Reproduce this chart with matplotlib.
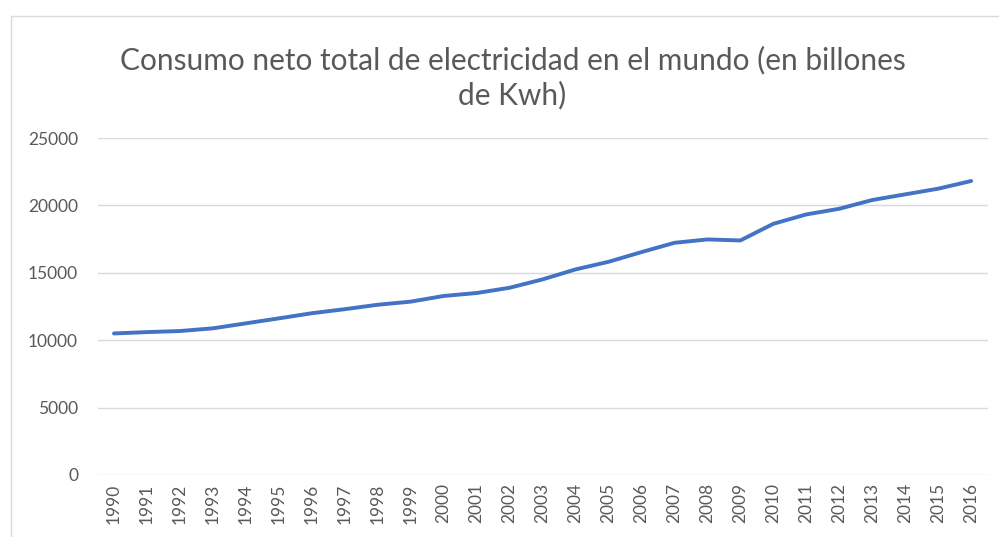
import matplotlib
matplotlib.use("Agg")
import matplotlib.pyplot as plt
from matplotlib.patches import Rectangle

years = [str(y) for y in range(1990, 2017)]
consumo = [10500, 10600, 10680, 10880, 11250, 11620, 12000, 12300, 12630, 12860,
           13280, 13500, 13890, 14510, 15250, 15815, 16535, 17225, 17475, 17400,
           18635, 19330, 19750, 20400, 20820, 21240, 21810]
yticks = [0, 5000, 10000, 15000, 20000, 25000]
title = "Consumo neto total de electricidad en el mundo (en billones\nde Kwh)"

plt.rcParams['font.family'] = ['Lato', 'DejaVu Sans']
fig = plt.figure(figsize=(9.99, 5.37), dpi=100)
ax = fig.add_axes([0.0976, 0.1155, 0.891, 0.6275])

x = list(range(len(years)))
ax.plot(x, consumo, color='#4472C4', linewidth=2.8, solid_capstyle='round', solid_joinstyle='round')
ax.set_xlim(-0.5, len(years) - 0.5)
ax.set_ylim(0, 25000)
ax.set_yticks(yticks)
ax.set_yticklabels([str(v) for v in yticks])
ax.set_xticks(x)
ax.set_xticklabels(years, rotation=90)
ax.grid(axis='y', color='#D9D9D9', linewidth=1.0)
ax.set_axisbelow(True)
for s in ax.spines.values():
    s.set_visible(False)
ax.tick_params(axis='both', length=0, labelsize=12.5, labelcolor='#595959')
ax.tick_params(axis='y', pad=14)
ax.tick_params(axis='x', pad=6)

fig.text(0.513, 0.856, title, ha='center', va='center', fontsize=21.5,
         color='#595959', linespacing=1.25)

fig.patches.append(Rectangle((11 / 999, -0.1), 1.2, 1.1 - 16 / 537, transform=fig.transFigure,
                             fill=False, edgecolor='#D9D9D9', linewidth=1.0))

fig.savefig('out.png', dpi=100)
